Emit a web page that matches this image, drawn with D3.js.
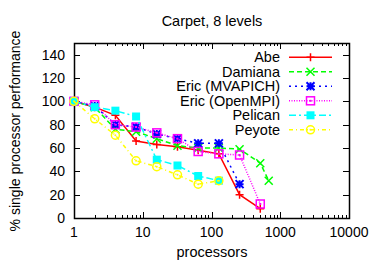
<!DOCTYPE html>
<html lang="en">
<head>
<meta charset="UTF-8">
<title>Carpet, 8 levels</title>
<script src="https://d3js.org/d3.v7.min.js"></script>
<style>
  body { margin: 0; background: #fff; }
  text { font-family: "Liberation Sans", Arial, sans-serif; fill: #000; }
</style>
</head>
<body>
<svg id="chart" width="374" height="262"></svg>
<script>
  // data
  const procs = [1, 2, 4, 8, 16, 32, 64, 128, 256, 512];
  const abe = [100, 95, 88, 66, 63, 61, 58, 55, 20, 8];
  const damiana = [100, 95, 76, 74, 68, 62, 60, 60, 59, 47];
  const damianaLast = [680, 32];
  const ericMv = [100, 96, 80, 78, 72, 68, 64, 64, 29];
  const ericOpen = [100, 97, 80, 78, 73, 68, 57, 55, 54, 12];
  const pelican = [100, 95, 92, 87, 50, 45, 36, 32];
  const peyote = [100, 85, 71, 49, 44, 37, 29, 32];
  const yTicks = [0, 20, 40, 60, 80, 100, 120, 140];
  const xTicks = [1, 10, 100, 1000, 10000];

  const series = [
    { name: "Abe", color: "#ff0000", dash: null, mark: "plus",
      pts: abe.map((v, i) => [procs[i], v]) },
    { name: "Damiana", color: "#00ff00", dash: "5,3", mark: "cross",
      pts: damiana.map((v, i) => [procs[i], v]).concat([damianaLast]) },
    { name: "Eric (MVAPICH)", color: "#0000ff", dash: "2,4", mark: "star",
      pts: ericMv.map((v, i) => [procs[i], v]) },
    { name: "Eric (OpenMPI)", color: "#ff00ff", dash: "1,1.5", mark: "box",
      pts: ericOpen.map((v, i) => [procs[i], v]) },
    { name: "Pelican", color: "#00ffff", dash: "7,3,2,3", mark: "fbox",
      pts: pelican.map((v, i) => [procs[i], v]) },
    { name: "Peyote", color: "#ffff00", dash: "4,3,1,3", mark: "circle",
      pts: peyote.map((v, i) => [procs[i], v]) }
  ];

  const pLeft = 74, pRight = 349, pTop = 43, pBottom = 218;
  const svg = d3.select("#chart");
  const x = d3.scaleLog().domain([1, 10000]).range([pLeft, pRight]);
  const y = d3.scaleLinear().domain([0, 150]).range([pBottom, pTop]);

  // title and axis labels
  svg.append("text").attr("x", 212).attr("y", 26).attr("text-anchor", "middle")
    .style("font-size", "14.5px").text("Carpet, 8 levels");
  svg.append("text").attr("x", 212).attr("y", 257).attr("text-anchor", "middle")
    .style("font-size", "14.5px").text("processors");
  svg.append("text").attr("transform", "translate(20,131) rotate(-90)")
    .attr("text-anchor", "middle").style("font-size", "14px")
    .text("% single processor performance");

  // ticks (gnuplot style, inside, mirrored)
  const ticks = svg.append("g").attr("stroke", "#000").attr("stroke-width", 1);
  yTicks.forEach(t => {
    const yy = Math.round(y(t)) + 0.5;
    ticks.append("line").attr("x1", pLeft).attr("x2", pLeft + 6).attr("y1", yy).attr("y2", yy);
    ticks.append("line").attr("x1", pRight).attr("x2", pRight - 6).attr("y1", yy).attr("y2", yy);
    svg.append("text").attr("x", pLeft - 9).attr("y", y(t) + 5).attr("text-anchor", "end")
      .style("font-size", "14px").text(t);
  });
  xTicks.forEach((t, k) => {
    const xx = Math.round(x(t)) + 0.5;
    ticks.append("line").attr("x1", xx).attr("x2", xx).attr("y1", pBottom).attr("y2", pBottom - 6);
    ticks.append("line").attr("x1", xx).attr("x2", xx).attr("y1", pTop).attr("y2", pTop + 6);
    svg.append("text").attr("x", x(t)).attr("y", 237).attr("text-anchor", "middle")
      .style("font-size", "14px").text(t);
    if (k < xTicks.length - 1) {
      for (let m = 2; m < 10; m++) {
        const mx = Math.round(x(t * m)) + 0.5;
        ticks.append("line").attr("x1", mx).attr("x2", mx).attr("y1", pBottom).attr("y2", pBottom - 3);
        ticks.append("line").attr("x1", mx).attr("x2", mx).attr("y1", pTop).attr("y2", pTop + 3);
      }
    }
  });

  svg.append("rect").attr("x", pLeft + 0.5).attr("y", pTop + 0.5)
    .attr("width", pRight - pLeft).attr("height", pBottom - pTop)
    .attr("fill", "none").attr("stroke", "#000").attr("stroke-width", 1.5);

  function drawMark(g, mark, cx, cy, color) {
    const s = 4;
    if (mark === "plus") {
      g.append("path").attr("d", `M${cx - s},${cy}H${cx + s}M${cx},${cy - s}V${cy + s}`)
        .attr("stroke", color).attr("stroke-width", 1.5).attr("fill", "none");
    } else if (mark === "cross") {
      g.append("path").attr("d", `M${cx - s},${cy - s}L${cx + s},${cy + s}M${cx - s},${cy + s}L${cx + s},${cy - s}`)
        .attr("stroke", color).attr("stroke-width", 1.5).attr("fill", "none");
    } else if (mark === "star") {
      g.append("path").attr("d", `M${cx - s},${cy}H${cx + s}M${cx},${cy - s}V${cy + s}M${cx - s},${cy - s}L${cx + s},${cy + s}M${cx - s},${cy + s}L${cx + s},${cy - s}`)
        .attr("stroke", color).attr("stroke-width", 2).attr("fill", "none");
    } else if (mark === "box") {
      g.append("rect").attr("x", cx - s).attr("y", cy - s).attr("width", 2 * s).attr("height", 2 * s)
        .attr("stroke", color).attr("stroke-width", 1.5).attr("fill", "none");
      g.append("rect").attr("x", cx - 1).attr("y", cy - 1).attr("width", 2).attr("height", 2)
        .attr("fill", color);
    } else if (mark === "fbox") {
      g.append("rect").attr("x", cx - s).attr("y", cy - s).attr("width", 2 * s).attr("height", 2 * s)
        .attr("fill", color);
    } else if (mark === "circle") {
      g.append("circle").attr("cx", cx).attr("cy", cy).attr("r", s)
        .attr("stroke", color).attr("stroke-width", 1.5).attr("fill", "none");
      g.append("circle").attr("cx", cx).attr("cy", cy).attr("r", 1).attr("fill", color);
    }
  }

  const line = d3.line().x(d => x(d[0])).y(d => y(d[1]));
  const plot = svg.append("g");
  series.forEach(s => {
    plot.append("path").attr("d", line(s.pts)).attr("fill", "none")
      .attr("stroke", s.color).attr("stroke-width", 1.5)
      .attr("stroke-dasharray", s.dash);
    s.pts.forEach(p => drawMark(plot, s.mark, x(p[0]), y(p[1]), s.color));
  });

  // legend
  const legend = svg.append("g");
  series.forEach((s, i) => {
    const ly = 57.3 + i * 14.5;
    legend.append("text").attr("x", 280).attr("y", ly + 5).attr("text-anchor", "end")
      .style("font-size", "14.5px").text(s.name);
    legend.append("line").attr("x1", 289).attr("x2", 332).attr("y1", ly).attr("y2", ly)
      .attr("stroke", s.color).attr("stroke-width", 1.5).attr("stroke-dasharray", s.dash);
    drawMark(legend, s.mark, 310.5, ly, s.color);
  });
</script>
</body>
</html>
